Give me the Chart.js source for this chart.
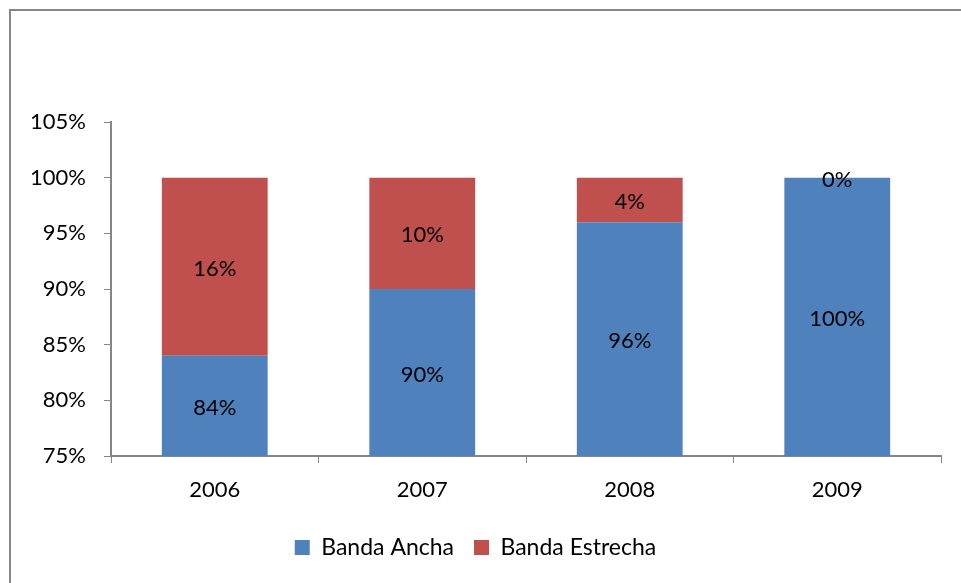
<!DOCTYPE html>
<html>
<head>
<meta charset="utf-8">
<script src="https://cdn.jsdelivr.net/npm/chart.js@4.4.0/dist/chart.umd.min.js"></script>
<style>
  html, body { margin: 0; padding: 0; background: #fff; }
  #wrap { width: 961px; height: 583px; }
</style>
</head>
<body>
<div id="wrap"><canvas id="grafico" width="961" height="583"></canvas></div>
<script>
// Datos del gráfico
const years = ['2006', '2007', '2008', '2009'];
const bandaAncha = [84, 90, 96, 100];
const bandaEstrecha = [16, 10, 4, 0];
const yTicks = [75, 80, 85, 90, 95, 100, 105];

const FONT = 'Lato, "Open Sans", sans-serif';
const AXIS_GRAY = '#868686';

// Marco gris alrededor del gráfico
const frame = {
    id: 'frame',
    beforeDraw(chart) {
        const c = chart.ctx;
        c.save();
        c.strokeStyle = AXIS_GRAY;
        c.lineWidth = 2;
        c.strokeRect(10, 10, 1000, 1000);
        c.restore();
    }
};

// Etiquetas de porcentaje en el centro de cada segmento visible
const segmentLabels = {
    id: 'segmentLabels',
    afterDatasetsDraw(chart) {
        const c = chart.ctx;
        const area = chart.chartArea;
        c.save();
        c.font = '22px ' + FONT;
        c.fillStyle = '#000';
        c.textAlign = 'center';
        c.textBaseline = 'middle';
        chart.data.datasets.forEach((ds, i) => {
            chart.getDatasetMeta(i).data.forEach((bar, j) => {
                const p = bar.getProps(['x', 'y', 'base'], true);
                const top = Math.max(Math.min(p.y, p.base), area.top);
                const bottom = Math.min(Math.max(p.y, p.base), area.bottom);
                c.fillText(ds.data[j] + '%', p.x, (top + bottom) / 2 + 2);
            });
        });
        c.restore();
    }
};

new Chart(document.getElementById('grafico'), {
    type: 'bar',
    data: {
        labels: years,
        datasets: [
            { label: 'Banda Ancha', data: bandaAncha, backgroundColor: '#4F81BD' },
            { label: 'Banda Estrecha', data: bandaEstrecha, backgroundColor: '#C0504D' }
        ]
    },
    options: {
        responsive: false,
        animation: false,
        layout: { padding: { top: 122, left: 10, right: 20, bottom: 14 } },
        datasets: { bar: { categoryPercentage: 1, barPercentage: 0.51 } },
        plugins: {
            legend: {
                position: 'bottom',
                labels: {
                    font: { family: FONT, size: 23 },
                    color: '#000',
                    boxWidth: 15,
                    boxHeight: 15,
                    padding: 20
                }
            },
            tooltip: { enabled: false }
        },
        scales: {
            x: {
                stacked: true,
                afterFit: (scale) => { scale.height = 60; },
                grid: { drawOnChartArea: false, drawTicks: true, tickLength: 7, color: AXIS_GRAY, offset: true },
                border: { color: AXIS_GRAY, width: 2 },
                ticks: { font: { family: FONT, size: 22 }, color: '#000', padding: 14 }
            },
            y: {
                stacked: true,
                min: 75,
                max: 105,
                afterFit: (scale) => { scale.width = 101; },
                afterBuildTicks: (scale) => { scale.ticks = yTicks.map(v => ({ value: v })); },
                grid: { drawOnChartArea: false, drawTicks: true, tickLength: 7, color: AXIS_GRAY },
                border: { color: AXIS_GRAY, width: 2 },
                ticks: {
                    font: { family: FONT, size: 22 },
                    color: '#000',
                    padding: 18,
                    callback: (v) => v + '%'
                }
            }
        }
    },
    plugins: [frame, segmentLabels]
});
</script>
</body>
</html>
